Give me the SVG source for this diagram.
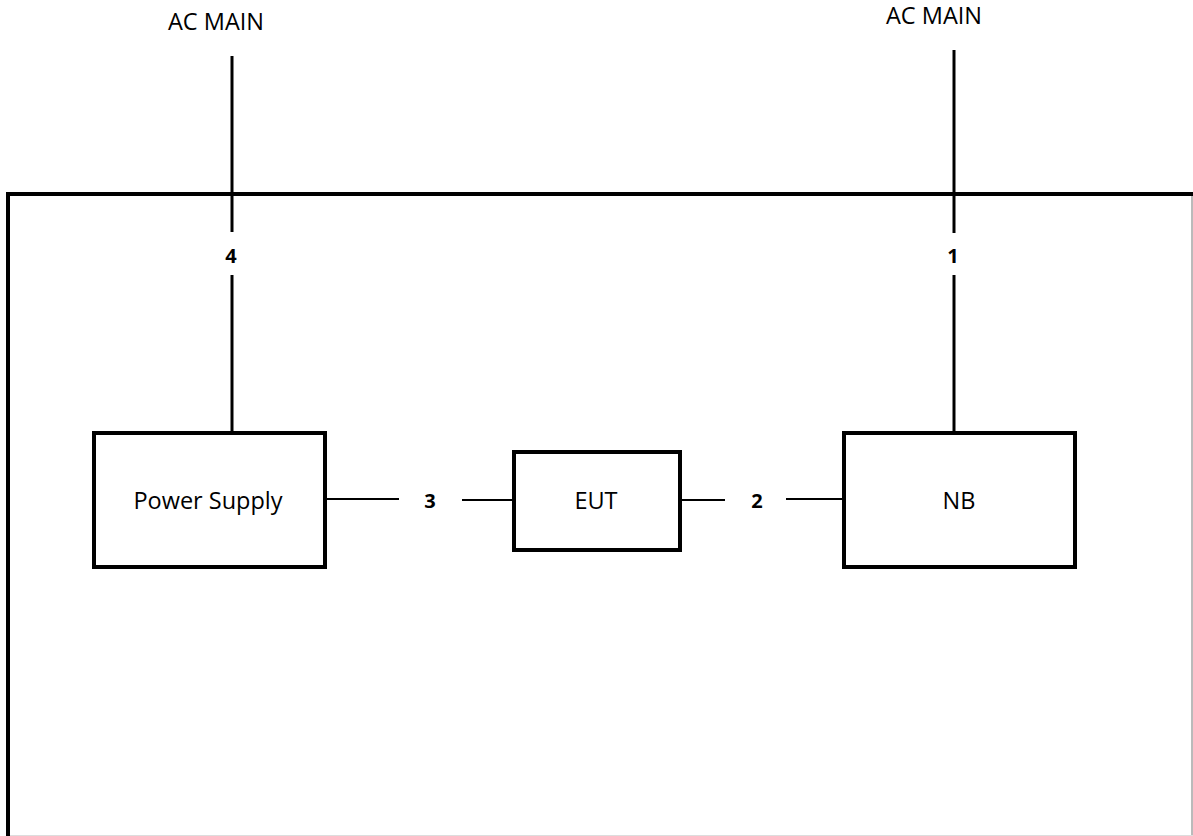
<svg xmlns="http://www.w3.org/2000/svg" width="1193" height="836" viewBox="0 0 1193 836">
<style>
.box{fill:#fff;stroke:#000;stroke-width:4}
.ln{stroke:#000;stroke-width:3;fill:none}
.t{font-family:"Open Sans","Liberation Sans",sans-serif;font-size:23.5px;fill:#000;text-anchor:middle}
.n{font-family:"Open Sans","Liberation Sans",sans-serif;font-size:20px;font-weight:bold;fill:#000;text-anchor:middle}
</style>
<rect width="1193" height="836" fill="#fff"/>
<g id="enclosure">
<path d="M8,836 V194 H1193" fill="none" stroke="#000" stroke-width="4"/>
<line x1="1192" y1="196" x2="1192" y2="836" stroke="#777" stroke-width="1"/>
<line x1="10" y1="835.5" x2="1193" y2="835.5" stroke="#ddd" stroke-width="1"/>
</g>
<g id="connectors">
<line class="ln" x1="232" y1="56" x2="232" y2="232"/>
<line class="ln" x1="232" y1="275" x2="232" y2="433"/>
<text class="n" x="231" y="263">4</text>
<line class="ln" x1="954" y1="50" x2="954" y2="233"/>
<line class="ln" x1="954" y1="275" x2="954" y2="433"/>
<text class="n" x="953" y="263">1</text>
<line x1="325" y1="499" x2="399" y2="499" stroke="#000" stroke-width="2"/>
<line x1="462" y1="500" x2="514" y2="500" stroke="#000" stroke-width="2"/>
<text class="n" x="430" y="508">3</text>
<line x1="680" y1="500" x2="725" y2="500" stroke="#000" stroke-width="2"/>
<line x1="786" y1="499" x2="844" y2="499" stroke="#000" stroke-width="2"/>
<text class="n" x="757" y="508">2</text>
</g>
<g id="label-ac-left"><text class="t" x="216" y="30">AC MAIN</text></g>
<g id="label-ac-right"><text class="t" x="934" y="24">AC MAIN</text></g>
<g id="power-supply">
<rect class="box" x="94" y="433" width="231" height="134"/>
<text class="t" x="208" y="509">Power Supply</text>
</g>
<g id="eut">
<rect class="box" x="514" y="452" width="166" height="98"/>
<text class="t" x="596" y="509">EUT</text>
</g>
<g id="nb">
<rect class="box" x="844" y="433" width="231" height="134"/>
<text class="t" x="959" y="509">NB</text>
</g>
</svg>
